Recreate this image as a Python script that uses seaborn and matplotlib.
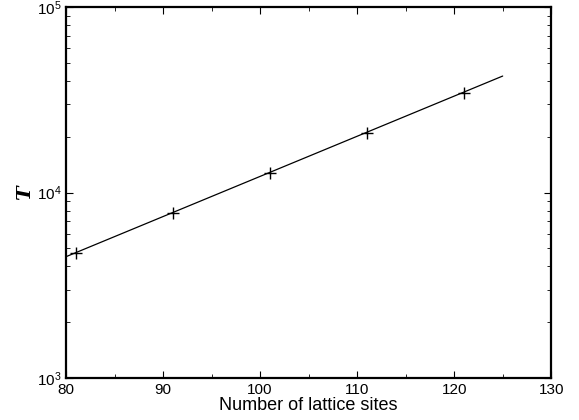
import matplotlib
matplotlib.use("Agg")
import matplotlib.pyplot as plt
import seaborn as sns
import pandas as pd
from matplotlib.ticker import LogLocator, MultipleLocator, NullFormatter

sites = [81, 91, 101, 111, 121]
T_values = [4720, 7720, 12790, 20990, 34500]
fit_x = [80, 125]
fit_T = [4510, 42500]

sns.set_style("ticks")
plt.rcParams['font.family'] = ['Liberation Sans', 'DejaVu Sans']
plt.rcParams['text.color'] = 'black'
plt.rcParams['axes.labelcolor'] = 'black'
plt.rcParams['xtick.color'] = 'black'
plt.rcParams['ytick.color'] = 'black'

fig = plt.figure(figsize=(5.79, 4.2), dpi=100)
ax = fig.add_axes([0.114, 0.1, 0.838, 0.883])

pts = pd.DataFrame({"sites": sites, "T": T_values})
fit = pd.DataFrame({"sites": fit_x, "T": fit_T})

sns.lineplot(data=fit, x="sites", y="T", ax=ax, color="black", linewidth=0.9)
sns.scatterplot(data=pts, x="sites", y="T", ax=ax, marker="+", s=70,
                color="black", linewidth=1.0)

ax.set_yscale("log")
ax.set_xlim(80, 130)
ax.set_ylim(1e3, 1e5)
ax.xaxis.set_major_locator(MultipleLocator(10))
ax.xaxis.set_minor_locator(MultipleLocator(5))
ax.yaxis.set_major_locator(LogLocator(base=10, numticks=5))
ax.yaxis.set_minor_locator(LogLocator(base=10, subs=range(2, 10), numticks=20))
ax.yaxis.set_minor_formatter(NullFormatter())

ax.tick_params(which="both", direction="in", top=True, right=True,
               labelsize=11, colors="black")
ax.tick_params(which="major", length=5, width=0.8)
ax.tick_params(which="minor", length=3, width=0.6)
for s in ax.spines.values():
    s.set_linewidth(1.6)
    s.set_color("black")

ax.set_xlabel("Number of lattice sites", fontsize=13, labelpad=0, color="black")
ax.set_ylabel("T", fontsize=14, fontstyle="italic", fontweight="bold",
              family="DejaVu Serif", rotation=90, labelpad=2, color="black")

fig.savefig("out.png", dpi=100)
